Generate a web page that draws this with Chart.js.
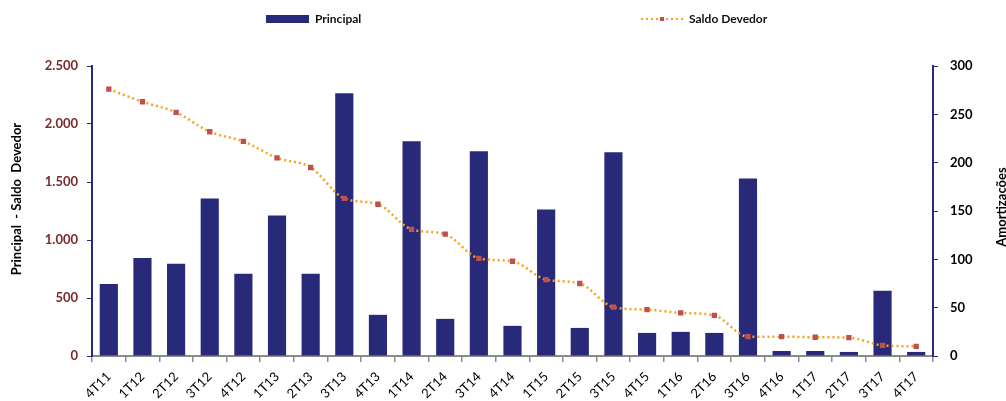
<!DOCTYPE html>
<html>
<head>
<meta charset="utf-8">
<script src="https://cdn.jsdelivr.net/npm/chart.js@4.4.1/dist/chart.umd.min.js"></script>
<style>
  html, body { margin: 0; padding: 0; background: #fff; }
  #wrap { position: relative; width: 1006px; height: 401px; }
  #chart { position: absolute; left: 0; top: 0; }
  .legend { position: absolute; top: 11px; font: bold 12px Lato, "Liberation Sans", sans-serif; color: #111; display: flex; align-items: center; }
  .legend .sw-bar { width: 43px; height: 8px; background: #29297a; margin-right: 6px; }
  .legend .sw-line { width: 43px; height: 8px; margin-right: 6px; position: relative; }
</style>
</head>
<body>
<div id="wrap">
  <canvas id="chart" width="1006" height="401"></canvas>
  <div class="legend" style="left:266px"><span class="sw-bar"></span>Principal</div>
  <div class="legend" style="left:640px"><canvas class="sw-line" id="swLine" width="43" height="8"></canvas>Saldo Devedor</div>
</div>
<script>
// Quarters on the x axis
const labels = ['4T11','1T12','2T12','3T12','4T12','1T13','2T13','3T13','4T13','1T14','2T14','3T14',
                '4T14','1T15','2T15','3T15','4T15','1T16','2T16','3T16','4T16','1T17','2T17','3T17','4T17'];

// Principal (bars, left axis)
const principal = [620, 845, 795, 1358, 709, 1211, 709, 2266, 355, 1851, 320, 1765,
                   260, 1263, 242, 1756, 199, 208, 199, 1531, 43, 43, 35, 562, 35];
// Saldo devedor (dotted line, right axis)
const saldoDevedor = [276, 263, 252, 232, 222, 205, 195, 163, 157, 131, 126, 101,
                      98, 79, 75, 50.5, 48, 44.6, 42, 20, 20, 19.4, 19, 11, 10];

const leftTicks = [0, 500, 1000, 1500, 2000, 2500];
const rightTicks = [0, 50, 100, 150, 200, 250, 300];

const NAVY = '#29297a';
const ORANGE = '#f7a21b';
const MARK = '#c0504d';
const FONT = 'Lato, "Liberation Sans", sans-serif';

function fmt(v) {
  return v.toString().replace(/\B(?=(\d{3})+(?!\d))/g, '.');
}

// rotated axis titles, both read bottom to top
function drawTitle(ctx, text, x, y) {
  ctx.save();
  ctx.font = 'bold 13px ' + FONT;
  ctx.fillStyle = '#000';
  ctx.textAlign = 'center';
  ctx.textBaseline = 'middle';
  ctx.translate(x, y);
  ctx.rotate(-Math.PI / 2);
  ctx.fillText(text, 0, 0);
  ctx.restore();
}

const axisTitles = {
  id: 'axisTitles',
  afterDraw(chart) {
    drawTitle(chart.ctx, 'Principal  - Saldo  Devedor', 17, 199);
    drawTitle(chart.ctx, 'Amortizações', 1002, 207);
  }
};

new Chart(document.getElementById('chart'), {
  data: {
    labels: labels,
    datasets: [
      {
        type: 'line',
        label: 'Saldo Devedor',
        data: saldoDevedor,
        yAxisID: 'y1',
        borderColor: ORANGE,
        borderWidth: 2.5,
        borderDash: [2, 3],
        cubicInterpolationMode: 'monotone',
        pointStyle: 'rect',
        pointRadius: 2,
        pointBackgroundColor: MARK,
        pointBorderColor: MARK,
        order: 0
      },
      {
        type: 'bar',
        label: 'Principal',
        data: principal,
        yAxisID: 'y',
        backgroundColor: NAVY,
        borderWidth: 0,
        barPercentage: 0.54,
        categoryPercentage: 1,
        order: 1
      }
    ]
  },
  options: {
    responsive: false,
    animation: false,
    layout: { padding: { top: 66, left: 0, right: 0, bottom: 0 } },
    plugins: { legend: { display: false }, tooltip: { enabled: false } },
    scales: {
      x: {
        grid: { drawOnChartArea: false, color: '#8c8c8c', tickLength: 6, lineWidth: 1.5 },
        border: { color: '#8c8c8c', width: 2 },
        ticks: { color: '#000', font: { family: FONT, size: 13 }, minRotation: 45, maxRotation: 45, padding: 7, autoSkip: false },
        afterFit(s) { s.height = 45; }
      },
      y: {
        position: 'left',
        min: 0, max: 2500,
        afterBuildTicks(s) { s.ticks = leftTicks.map(v => ({ value: v })); },
        grid: { drawOnChartArea: false, color: NAVY, tickLength: 5 },
        border: { color: NAVY, width: 2 },
        ticks: { color: '#7a2a2a', font: { family: FONT, size: 13, weight: 'bold' }, padding: 9, callback: v => fmt(v) },
        afterFit(s) { s.width = 92; }
      },
      y1: {
        position: 'right',
        min: 0, max: 300,
        afterBuildTicks(s) { s.ticks = rightTicks.map(v => ({ value: v })); },
        grid: { drawOnChartArea: false, color: NAVY, tickLength: 5 },
        border: { color: NAVY, width: 2 },
        ticks: { color: '#000', font: { family: FONT, size: 13, weight: 'bold' }, padding: 12 },
        afterFit(s) { s.width = 73; }
      }
    }
  },
  plugins: [axisTitles]
});

// legend swatch for the dotted line
const sw = document.getElementById('swLine').getContext('2d');
sw.fillStyle = ORANGE;
for (let x = 1; x < 43; x += 5) sw.fillRect(x, 3, 2, 2);
sw.fillStyle = MARK;
sw.fillRect(20, 2, 4, 4);
</script>
</body>
</html>
